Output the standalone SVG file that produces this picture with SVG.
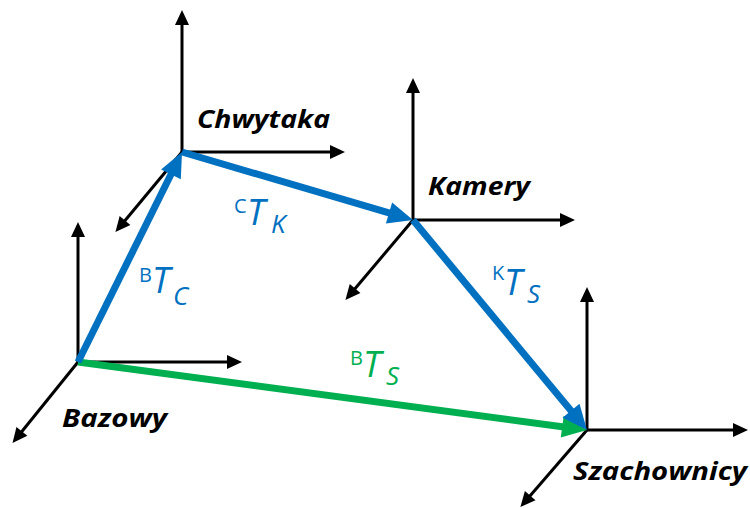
<svg xmlns="http://www.w3.org/2000/svg" width="750" height="508" viewBox="0 0 750 508">
  <style>
    .axis { stroke: #000; stroke-width: 3; fill: none; marker-end: url(#ah-black); }
    .vec-blue { stroke: #0070C0; stroke-width: 7; fill: none; marker-end: url(#ah-blue); }
    .vec-green { stroke: #00B050; stroke-width: 7; fill: none; marker-end: url(#ah-green); }
    .frame-name { font-family: "Open Sans", "Liberation Sans", sans-serif; font-weight: bold; font-style: italic; font-size: 25px; fill: #000; }
    .tf { font-family: "Open Sans", "Liberation Sans", sans-serif; }
    .tf .main { font-size: 36px; font-style: italic; }
    .tf .sup { font-size: 20px; }
    .tf .sub { font-size: 26px; font-style: italic; }
    .blue { fill: #0070C0; }
    .green { fill: #00B050; }
  </style>
  <defs>
    <marker id="ah-black" markerUnits="userSpaceOnUse" markerWidth="15" markerHeight="14" refX="11" refY="7" orient="auto" overflow="visible">
      <path d="M0,0 L15,7 L0,14 Z" fill="#000"/>
    </marker>
    <marker id="ah-blue" markerUnits="userSpaceOnUse" markerWidth="25" markerHeight="22" refX="15" refY="11" orient="auto" overflow="visible">
      <path d="M0,0 L25,11 L0,22 Z" fill="#0070C0"/>
    </marker>
    <marker id="ah-green" markerUnits="userSpaceOnUse" markerWidth="25" markerHeight="22" refX="15" refY="11" orient="auto" overflow="visible">
      <path d="M0,0 L25,11 L0,22 Z" fill="#00B050"/>
    </marker>
  </defs>

  <!-- coordinate frames: three axes each -->
  <g id="frame-bazowy">
    <line class="axis" x1="78" y1="362" x2="78" y2="226"/>
    <line class="axis" x1="78" y1="362" x2="238" y2="362"/>
    <line class="axis" x1="78" y1="362" x2="15" y2="440"/>
    <text class="frame-name" x="62" y="427" textLength="105" lengthAdjust="spacingAndGlyphs">Bazowy</text>
  </g>
  <g id="frame-chwytaka">
    <line class="axis" x1="182" y1="152" x2="182" y2="14"/>
    <line class="axis" x1="182" y1="152" x2="341" y2="152"/>
    <line class="axis" x1="182" y1="152" x2="118" y2="229"/>
    <text class="frame-name" x="197" y="128" textLength="133" lengthAdjust="spacingAndGlyphs">Chwytaka</text>
  </g>
  <g id="frame-kamery">
    <line class="axis" x1="413" y1="220" x2="413" y2="82"/>
    <line class="axis" x1="413" y1="220" x2="571" y2="220"/>
    <line class="axis" x1="413" y1="220" x2="348" y2="297"/>
    <text class="frame-name" x="428" y="195" textLength="102" lengthAdjust="spacingAndGlyphs">Kamery</text>
  </g>
  <g id="frame-szachownicy">
    <line class="axis" x1="587" y1="430" x2="587" y2="291"/>
    <line class="axis" x1="587" y1="430" x2="744" y2="430"/>
    <line class="axis" x1="587" y1="430" x2="523" y2="504"/>
    <text class="frame-name" x="573" y="480" textLength="174" lengthAdjust="spacingAndGlyphs">Szachownicy</text>
  </g>

  <!-- transformations between frames -->
  <g id="connectors">
    <line class="vec-green" x1="78" y1="362" x2="577.1" y2="428.7"/>
    <line class="vec-blue" x1="78" y1="362" x2="177.6" y2="161"/>
    <line class="vec-blue" x1="182" y1="152" x2="403.4" y2="217.2"/>
    <line class="vec-blue" x1="413" y1="220" x2="580.6" y2="422.3"/>
  </g>

  <g id="labels">
    <text class="tf blue"><tspan class="sup" x="139" y="282">B</tspan><tspan class="main" x="152" y="293">T</tspan><tspan class="sub" x="173" y="305">C</tspan></text>
    <text class="tf blue"><tspan class="sup" x="234" y="213">C</tspan><tspan class="main" x="247" y="225">T</tspan><tspan class="sub" x="271" y="233">K</tspan></text>
    <text class="tf blue"><tspan class="sup" x="492" y="280">K</tspan><tspan class="main" x="504" y="295">T</tspan><tspan class="sub" x="527" y="303">S</tspan></text>
    <text class="tf green"><tspan class="sup" x="350" y="365">B</tspan><tspan class="main" x="363" y="377">T</tspan><tspan class="sub" x="386" y="385">S</tspan></text>
  </g>
</svg>
